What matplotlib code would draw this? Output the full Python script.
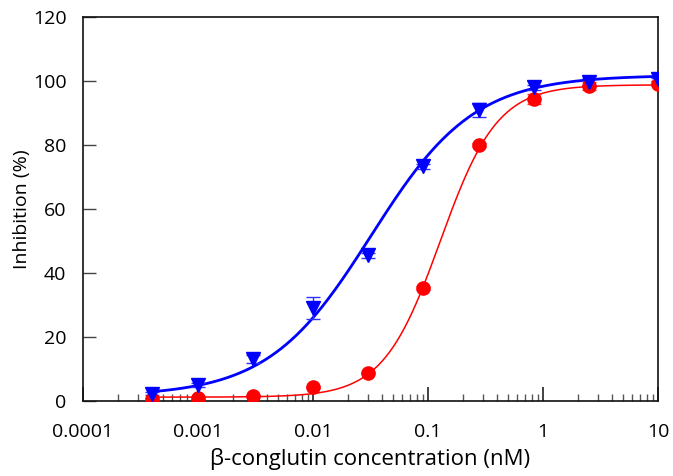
import numpy as np
import matplotlib
matplotlib.use("Agg")
import matplotlib.pyplot as plt
from matplotlib.ticker import LogLocator, FixedLocator, NullFormatter

# ---- data ----
conc = [0.0004, 0.001, 0.003, 0.01, 0.03, 0.09, 0.28, 0.83, 2.5, 10.0]
blue_y = [2.3, 4.9, 13.1, 29.0, 45.5, 73.4, 90.9, 98.0, 99.8, 100.5]
blue_err = [0.5, 0.6, 1.2, 3.4, 0.8, 0.8, 2.2, 0.8, 1.0, 0.5]
red_y = [0.5, 1.0, 1.6, 4.4, 8.7, 35.3, 80.1, 94.4, 98.5, 99.0]
red_err = [0.3, 0.3, 0.3, 0.4, 0.4, 0.5, 0.6, 1.6, 1.3, 0.6]

# 4-parameter logistic fit parameters (bottom, top, IC50, hill)
blue_fit = (1.5, 101.8, 0.032, 0.97)
red_fit = (1.2, 98.8, 0.128, 1.75)

x_ticks = [0.0001, 0.001, 0.01, 0.1, 1, 10]
x_labels = ["0.0001", "0.001", "0.01", "0.1", "1", "10"]
y_ticks = [0, 20, 40, 60, 80, 100, 120]

def logistic(x, p):
    b, t, ic, h = p
    return b + (t - b) / (1 + (ic / x) ** h)

plt.rcParams['font.family'] = ['Open Sans', 'DejaVu Sans']
fig = plt.figure(figsize=(6.73, 4.76), dpi=100)
ax = fig.add_axes([0.1233, 0.1576, 0.8544, 0.8067])

xs = np.logspace(np.log10(0.0004), 1, 400)
ax.plot(xs, logistic(xs, red_fit), color='#ff0000', lw=1.1, zorder=2)
ax.plot(xs, logistic(xs, blue_fit), color='#0000ff', lw=2.0, zorder=3)

ax.errorbar(conc, red_y, yerr=red_err, fmt='none', ecolor='#ff3030',
            elinewidth=1.0, capsize=5, capthick=1.0, zorder=4)
ax.errorbar(conc, blue_y, yerr=blue_err, fmt='none', ecolor='#3030ff',
            elinewidth=1.0, capsize=5, capthick=1.0, zorder=4)
ax.plot(conc, red_y, 'o', color='#ff0000', ms=9.5, mec='#ff0000', zorder=5)
ax.plot(conc, blue_y, 'v', color='#0000ff', ms=10, mec='#0000ff', zorder=6)

ax.set_xscale('log')
ax.set_xlim(0.0001, 10)
ax.set_ylim(0, 120)
ax.xaxis.set_major_locator(FixedLocator(x_ticks))
ax.set_xticklabels(x_labels)
ax.xaxis.set_minor_locator(LogLocator(base=10, subs=np.arange(2, 10), numticks=20))
ax.xaxis.set_minor_formatter(NullFormatter())
ax.set_yticks(y_ticks)

ax.tick_params(axis='x', which='major', direction='in', length=10, width=1.2,
               labelsize=14, pad=16, color='#222222')
ax.tick_params(axis='x', which='minor', direction='in', length=5, width=1.0,
               color='#555555')
ax.tick_params(axis='y', which='major', direction='in', length=9, width=1.0,
               labelsize=14, pad=12, color='#444444')
for s in ax.spines.values():
    s.set_linewidth(1.2)
    s.set_color('#111111')

ax.set_ylabel('Inhibition (%)', fontsize=14)
ax.yaxis.set_label_coords(-0.09, 0.5)
ax.set_xlabel('β-conglutin concentration (nM)', fontsize=16, labelpad=5)

fig.savefig('out.png', dpi=100)
